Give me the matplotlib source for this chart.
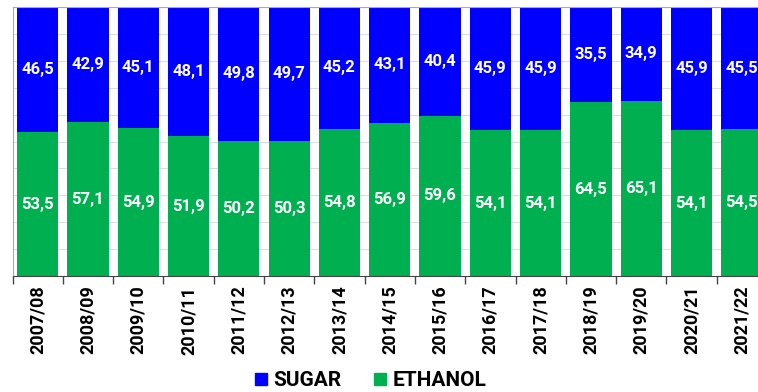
import matplotlib
matplotlib.use("Agg")
import matplotlib.pyplot as plt
from matplotlib.lines import Line2D
import numpy as np

plt.rcParams['font.family'] = ['Roboto', 'DejaVu Sans']

seasons = ["2007/08", "2008/09", "2009/10", "2010/11", "2011/12", "2012/13",
           "2013/14", "2014/15", "2015/16", "2016/17", "2017/18", "2018/19",
           "2019/20", "2020/21", "2021/22"]
ethanol = [53.5, 57.1, 54.9, 51.9, 50.2, 50.3, 54.8, 56.9, 59.6, 54.1, 54.1,
           64.5, 65.1, 54.1, 54.5]
sugar = [46.5, 42.9, 45.1, 48.1, 49.8, 49.7, 45.2, 43.1, 40.4, 45.9, 45.9,
         35.5, 34.9, 45.9, 45.5]

BLUE = "#0000FF"
GREEN = "#00B050"

fig = plt.figure(figsize=(7.58, 3.92), dpi=100)
ax = fig.add_axes([12.5 / 758, 116 / 392, 754.5 / 758, 269 / 392])

x = np.arange(len(seasons))
w = 0.82
ax.bar(x, ethanol, width=w, color=GREEN, zorder=2)
ax.bar(x, sugar, width=w, bottom=ethanol, color=BLUE, zorder=2)

def fmt(v):
    return f"{v:.1f}".replace(".", ",")

for xi, e, s in zip(x, ethanol, sugar):
    ax.text(xi, e / 2, fmt(e), ha="center", va="center", color="white",
            fontsize=12, fontweight="bold", zorder=3)
    ax.text(xi, e + s / 2, fmt(s), ha="center", va="center", color="white",
            fontsize=12, fontweight="bold", zorder=3)

ax.set_xlim(-0.5, len(seasons) - 0.5)
ax.set_ylim(0, 100)
ax.set_yticks(np.arange(0, 101, 10))
ax.set_yticklabels([])
ax.tick_params(axis="y", length=0)
ax.yaxis.grid(True, color="#DDDDDD", linewidth=0.8, zorder=0)
ax.set_axisbelow(True)

# category boundary ticks below the axis, labels centred under each bar
ax.set_xticks(np.arange(-0.5, len(seasons), 1.0))
ax.set_xticklabels([])
ax.set_xticks(x, minor=True)
ax.set_xticklabels(seasons, minor=True, rotation=90, fontsize=13,
                   fontweight="bold")
ax.tick_params(axis="x", which="major", length=6, color="#444444", width=1)
ax.tick_params(axis="x", which="minor", length=0, pad=7)

for side in ("left", "top"):
    ax.spines[side].set_color("#AAAAAA")
ax.spines["bottom"].set_color("#444444")
ax.spines["right"].set_visible(False)

handles = [Line2D([], [], marker="s", linestyle="", markersize=9,
                  color=BLUE, label="SUGAR"),
           Line2D([], [], marker="s", linestyle="", markersize=9,
                  color=GREEN, label="ETHANOL")]
fig.legend(handles=handles, loc="center", bbox_to_anchor=(371 / 758, 1 - 381 / 392),
           ncol=2, frameon=False, handlelength=0.5, handletextpad=0.35,
           columnspacing=1.6, prop={"size": 15, "weight": "bold"})

fig.savefig("out.png", dpi=100)
